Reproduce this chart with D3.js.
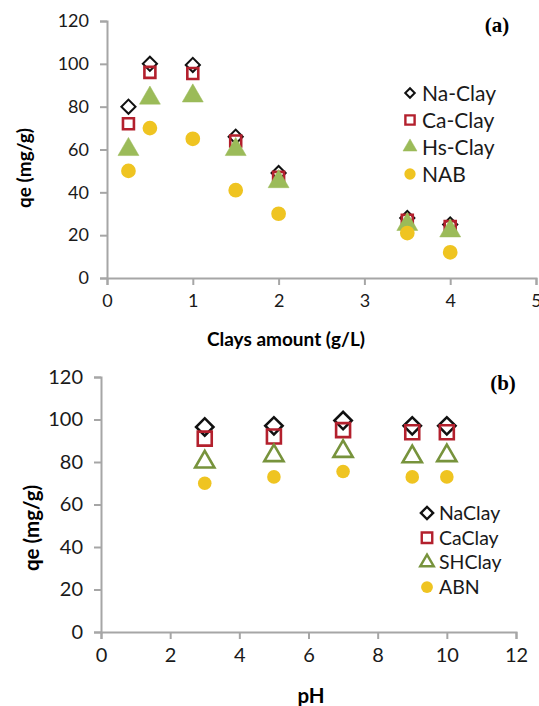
<!DOCTYPE html>
<html>
<head>
<meta charset="utf-8">
<script src="https://cdn.jsdelivr.net/npm/d3@7"></script>
<style>
  body { margin: 0; background: #fff; }
  svg { display: block; font-family: Lato, "Open Sans", sans-serif; }
</style>
</head>
<body>
<div id="chart"></div>
<script>
// panel (a): adsorption vs clay amount
const clayAmount = [0.25, 0.5, 1, 1.5, 2, 3.5, 4];
const naClayA = [80, 100, 99.5, 66, 49, 28, 25];
const caClayA = [72, 96, 95.5, 64, 47, 27, 24];
const hsClayA = [60, 84, 85, 60, 45, 25, 22];
const nabA = [50, 70, 65, 41, 30, 21, 12];
const seriesNamesA = ['Na-Clay', 'Ca-Clay', 'Hs-Clay', 'NAB'];
const xTicksA = [0, 1, 2, 3, 4, 5];
const yTicksA = [0, 20, 40, 60, 80, 100, 120];

// panel (b): adsorption vs pH
const phValues = [3, 5, 7, 9, 10];
const naClayB = [96.5, 97, 99.5, 97, 97];
const caClayB = [91, 92, 95, 94, 94];
const shClayB = [80, 83, 85, 82.5, 83];
const abnB = [70, 73, 75.5, 73, 73];
const seriesNamesB = ['NaClay', 'CaClay', 'SHClay', 'ABN'];
const xTicksB = [0, 2, 4, 6, 8, 10, 12];
const yTicksB = [0, 20, 40, 60, 80, 100, 120];

const W = 539, H = 706;
const AXIS_COLOR = '#a6a6a6';

const svg = d3.select('#chart').append('svg')
    .attr('width', W).attr('height', H);

// marker styles, in series order
function markerStyles(big) {
    return [
        {type: d3.symbolSquare, size: big ? 150 : 100, leg: big ? 75 : 45, rotate: 45, fill: 'none', stroke: '#111', sw: big ? 2.6 : 2},
        {type: d3.symbolSquare, size: big ? 195 : 120, leg: big ? 110 : 85, rotate: 0, fill: 'none', stroke: '#b3202d', sw: 2.6},
        big
            ? {type: d3.symbolTriangle, size: 160, leg: 80, rotate: 0, fill: 'none', stroke: '#77933c', sw: 2.6}
            : {type: d3.symbolTriangle, size: 190, leg: 85, rotate: 0, fill: '#9bbb59', stroke: '#9bbb59', sw: 0.5},
        {type: d3.symbolCircle, size: big ? 145 : 170, leg: big ? 110 : 100, rotate: 0, fill: '#efc421', stroke: 'none', sw: 0}
    ];
}

function drawPanel(cfg) {
    const x = d3.scaleLinear().domain(cfg.xDomain).range([cfg.left, cfg.right]);
    const y = d3.scaleLinear().domain([0, 120]).range([cfg.bottom, cfg.top]);
    const g = svg.append('g');

    const xAxis = g.append('g')
        .attr('transform', `translate(0,${cfg.bottom})`)
        .call(d3.axisBottom(x).tickValues(cfg.xTicks).tickSize(7).tickPadding(9).tickFormat(d3.format('d')));
    const yAxis = g.append('g')
        .attr('transform', `translate(${cfg.left},0)`)
        .call(d3.axisLeft(y).tickValues(cfg.yTicks).tickSize(7).tickPadding(11));
    [xAxis, yAxis].forEach(a => {
        a.select('.domain').attr('stroke', AXIS_COLOR).attr('stroke-width', 2);
        a.selectAll('.tick line').attr('stroke', AXIS_COLOR).attr('stroke-width', 2);
        a.selectAll('.tick text')
            .attr('fill', '#1a1a1a')
            .style('font-size', cfg.tickFont + 'px')
            .style('font-family', 'Lato, "Open Sans", sans-serif');
    });

    // axis titles
    g.append('text')
        .attr('x', cfg.xTitlePos[0]).attr('y', cfg.xTitlePos[1])
        .attr('text-anchor', 'middle')
        .style('font-weight', 'bold').style('font-size', cfg.titleFont + 'px')
        .text(cfg.xTitle);
    g.append('text')
        .attr('transform', `translate(${cfg.yTitlePos[0]},${cfg.yTitlePos[1]}) rotate(-90)`)
        .attr('text-anchor', 'middle')
        .style('font-weight', 'bold').style('font-size', cfg.titleFont + 'px')
        .text('qe (mg/g)');

    // panel label
    g.append('text')
        .attr('x', cfg.labelPos[0]).attr('y', cfg.labelPos[1])
        .attr('text-anchor', 'middle')
        .style('font-family', '"Liberation Serif", "DejaVu Serif", serif')
        .style('font-weight', 'bold').style('font-size', '21px')
        .text(cfg.label);

    const styles = markerStyles(cfg.big);

    cfg.series.forEach((vals, si) => {
        const st = styles[si];
        g.append('g').selectAll('path')
            .data(vals.map((v, i) => ({x: cfg.xs[i], v})))
            .enter().append('path')
            .attr('d', d3.symbol().type(st.type).size(st.size))
            .attr('transform', d => `translate(${x(d.x)},${y(d.v)}) rotate(${st.rotate})`)
            .attr('fill', st.fill)
            .attr('stroke', st.stroke)
            .attr('stroke-width', st.sw);
    });

    // legend
    const leg = g.append('g');
    cfg.names.forEach((name, i) => {
        const st = styles[i];
        const ly = cfg.legendPos[1] + i * cfg.legendStep;
        leg.append('path')
            .attr('d', d3.symbol().type(st.type).size(st.leg))
            .attr('transform', `translate(${cfg.legendPos[0]},${ly}) rotate(${st.rotate})`)
            .attr('fill', st.fill)
            .attr('stroke', st.stroke)
            .attr('stroke-width', Math.min(st.sw, 2.4));
        leg.append('text')
            .attr('x', cfg.legendPos[0] + 12).attr('y', ly)
            .attr('dy', '0.36em')
            .attr('fill', '#1a1a1a')
            .style('font-size', cfg.legendFont + 'px')
            .text(name);
    });
}

drawPanel({
    xDomain: [0, 5], left: 107, right: 536, top: 21, bottom: 278,
    xTicks: xTicksA, yTicks: yTicksA, tickFont: 18, titleFont: 19, legendFont: 21,
    xs: clayAmount, series: [naClayA, caClayA, hsClayA, nabA], names: seriesNamesA,
    big: false,
    xTitle: 'Clays amount (g/L)', xTitlePos: [286, 346], yTitlePos: [31, 168],
    label: '(a)', labelPos: [497, 32],
    legendPos: [410, 93], legendStep: 27
});

drawPanel({
    xDomain: [0, 12], left: 101, right: 516, top: 377, bottom: 632,
    xTicks: xTicksB, yTicks: yTicksB, tickFont: 20, titleFont: 20.5, legendFont: 19.5,
    xs: phValues, series: [naClayB, caClayB, shClayB, abnB], names: seriesNamesB,
    big: true,
    xTitle: 'pH', xTitlePos: [311, 703], yTitlePos: [39, 528],
    label: '(b)', labelPos: [503, 390],
    legendPos: [427, 513], legendStep: 24.7
});
</script>
</body>
</html>
